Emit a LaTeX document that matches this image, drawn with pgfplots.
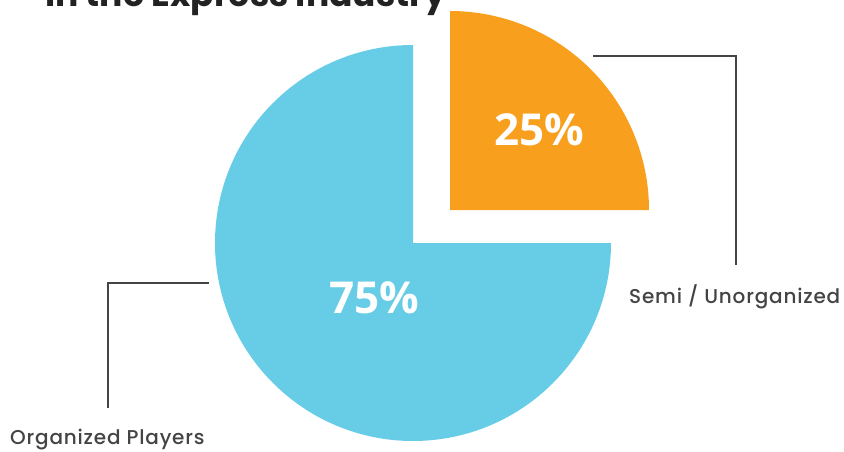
\documentclass[border=0pt]{standalone}
\usepackage{pgfplots}
\usepackage{pgfplotstable}
\pgfplotsset{compat=1.18}
\usepackage{fontspec}
\setmainfont{Poppins}
\newfontfamily\pctfont{Open Sans}
\newfontfamily\lblfont[LetterSpace=4]{Poppins Medium}
\definecolor{pieblue}{RGB}{103,204,230}
\definecolor{pieorange}{RGB}{248,159,30}
\definecolor{linegray}{RGB}{68,68,68}
\definecolor{titlegray}{RGB}{34,34,34}
\pgfplotstableread{
label value
Organized 75
Semi 25
}\piedata
\pgfplotstablegetelem{0}{value}\of\piedata \let\valOrg\pgfplotsretval
\pgfplotstablegetelem{1}{value}\of\piedata \let\valSemi\pgfplotsretval
\begin{document}
\begin{tikzpicture}
\useasboundingbox (0,0) rectangle (844pt,451pt);
\clip (0,0) rectangle (844pt,451pt);
\begin{axis}[
  at={(0,0)}, anchor=origin,
  scale only axis, width=844pt, height=451pt,
  xmin=0, xmax=844, ymin=0, ymax=451,
  hide axis, clip=false,
]
\pgfmathsetmacro{\angSemi}{\valSemi*3.6}
% Organized slice (blue)
\fill[pieblue] (axis cs:413,208) -- ++(\angSemi:198pt) arc[start angle=\angSemi, end angle=360, radius=198pt] -- cycle;
% Semi slice (orange), exploded
\fill[pieorange] (axis cs:450,241) -- ++(0:199pt) arc[start angle=0, end angle=\angSemi, radius=199pt] -- cycle;
% callout lines
\draw[linegray, line width=1.6pt] (axis cs:593,395) -- (axis cs:736,395) -- (axis cs:736,186);
\draw[linegray, line width=1.6pt] (axis cs:209,168) -- (axis cs:108,168) -- (axis cs:108,43);
% labels
\node[anchor=base, text=white, font=\pctfont\bfseries\fontsize{44}{44}\selectfont, inner sep=0pt] at (axis cs:374,138) {\valOrg\%};
\node[anchor=base, text=white, font=\pctfont\bfseries\fontsize{44}{44}\selectfont, inner sep=0pt] at (axis cs:539,306) {\valSemi\%};
\node[anchor=base west, text=linegray, font=\lblfont\fontsize{20}{20}\selectfont, inner sep=0pt] at (axis cs:629,148) {Semi / Unorganized};
\node[anchor=base west, text=linegray, font=\lblfont\fontsize{20}{20}\selectfont, inner sep=0pt] at (axis cs:10,7) {Organized Players};
\node[anchor=base west, text=titlegray, font=\bfseries\fontsize{34.5}{34.5}\selectfont, inner sep=0pt] at (axis cs:45,444) {in the Express Industry};
\end{axis}
\end{tikzpicture}
\end{document}
